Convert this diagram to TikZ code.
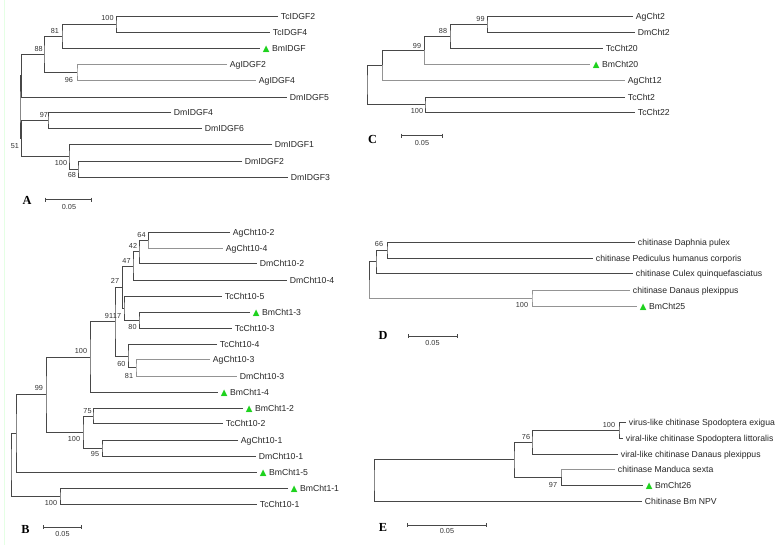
\documentclass[tikz,border=0pt]{standalone}
\usepackage{fontspec}
\newfontfamily\leaffamily{Liberation Sans}
\newfontfamily\panelfamily{Liberation Serif}
\newfontfamily\trifamily{DejaVu Sans}
\definecolor{trigreen}{RGB}{30,210,30}
\newcommand{\tri}{{\trifamily\textcolor{trigreen}{▲}}\ }

\begin{document}
\begin{tikzpicture}[x=0.03cm,y=-0.03cm,
  br/.style={draw=black!72,line width=0.55pt},
  brl/.style={draw=black!42,line width=0.45pt},
  leaf/.style={anchor=west,inner xsep=2.3pt,inner ysep=0pt,text=black!85,
    font=\leaffamily\fontsize{7.4}{8.5}\selectfont,text height=1.5ex,text depth=.25ex},
  boot/.style={inner sep=0pt,text=black!80,font=\leaffamily\fontsize{6.2}{7}\selectfont},
  panel/.style={inner sep=0pt,font=\panelfamily\bfseries\fontsize{10.5}{12}\selectfont}]
\fill[white] (0,0) rectangle (783,547);
\useasboundingbox (0,0) rectangle (783,547);
\draw[green!10,line width=0.8pt] (4,0) -- (4,545);

% A
\node[leaf] (TcIDGF2) at (278,16) {TcIDGF2};
\node[leaf] (TcIDGF4) at (270,32) {TcIDGF4};
\node[leaf] (BmIDGF) at (260,48) {\tri BmIDGF};
\node[leaf] (AgIDGF2) at (227,64) {AgIDGF2};
\node[leaf] (AgIDGF4) at (256,80) {AgIDGF4};
\node[leaf] (DmIDGF5) at (287,97) {DmIDGF5};
\node[leaf] (DmIDGF4) at (171,112) {DmIDGF4};
\node[leaf] (DmIDGF6) at (202,128) {DmIDGF6};
\node[leaf] (DmIDGF1) at (272,144) {DmIDGF1};
\node[leaf] (DmIDGF2) at (242,161) {DmIDGF2};
\node[leaf] (DmIDGF3) at (288,177) {DmIDGF3};
\coordinate (a100) at (116,24);
\coordinate (a81) at (62,36);
\coordinate (a96) at (77,72);
\coordinate (a88) at (44,54);
\coordinate (aX) at (21.7,75.5);
\coordinate (a97) at (48,120);
\coordinate (a68) at (78,169);
\coordinate (a100b) at (69,156.5);
\coordinate (a51) at (21.7,138);
\coordinate (aR) at (20,107);
\draw[br] (TcIDGF2.west) -| (a100) |- (TcIDGF4.west);
\draw[br] (a100) -| (a81) |- (BmIDGF.west);
\draw[brl] (AgIDGF2.west) -| (a96) |- (AgIDGF4.west);
\draw[br] (a81) -| (a88) |- (a96);
\draw[br] (a88) -| (aX) |- (DmIDGF5.west);
\draw[br] (DmIDGF4.west) -| (a97) |- (DmIDGF6.west);
\draw[br] (DmIDGF2.west) -| (a68) |- (DmIDGF3.west);
\draw[br] (DmIDGF1.west) -| (a100b) |- (a68);
\draw[br] (a97) -| (a51) |- (a100b);
\draw[br] (aX) -| (aR) |- (a51);
\node[boot] (bA1) at (107.5,18.3) {100};
\node[boot] (bA2) at (55,31) {81};
\node[boot] (bA3) at (38.7,49) {88};
\node[boot] (bA4) at (69,80) {96};
\node[boot] (bA5) at (44,115) {97};
\node[boot] (bA6) at (15,146) {51};
\node[boot] (bA7) at (61,163) {100};
\node[boot] (bA8) at (72,175) {68};
\node[panel] (pA) at (27,200) {A};
\draw[br] (45,197.5) -- (45,201.5) (45,199.5) -- (91,199.5) (91,197.5) -- (91,201.5);
\node[boot] (sA) at (69,207) {0.05};

% C
\node[leaf] (AgCht2) at (633,16) {AgCht2};
\node[leaf] (DmCht2) at (635,32) {DmCht2};
\node[leaf] (TcCht20) at (603,48) {TcCht20};
\node[leaf] (BmCht20) at (590,64) {\tri BmCht20};
\node[leaf] (AgCht12) at (625,80) {AgCht12};
\node[leaf] (TcCht2) at (625,97) {TcCht2};
\node[leaf] (TcCht22) at (635,112) {TcCht22};
\coordinate (c99a) at (487,24);
\coordinate (c88) at (450,36);
\coordinate (c99b) at (424,50);
\coordinate (cY) at (382,65);
\coordinate (c100) at (425,104.5);
\coordinate (cR) at (367,84.75);
\draw[br] (AgCht2.west) -| (c99a) |- (DmCht2.west);
\draw[br] (c99a) -| (c88) |- (TcCht20.west);
\draw[br] (c88) -| (c99b);
\draw[brl] (c99b) |- (BmCht20.west);
\draw[br] (c99b) -| (cY);
\draw[brl] (cY) |- (AgCht12.west);
\draw[br] (TcCht2.west) -| (c100) |- (TcCht22.west);
\draw[br] (cY) -| (cR) |- (c100);
\node[boot] (bC1) at (480.5,18.7) {99};
\node[boot] (bC2) at (443,31) {88};
\node[boot] (bC3) at (417,45.5) {99};
\node[boot] (bC4) at (417,111) {100};
\node[panel] (pC) at (372.5,139) {C};
\draw[br] (401,133.7) -- (401,137.7) (401,135.7) -- (442,135.7) (442,133.7) -- (442,137.7);
\node[boot] (sC) at (422,142.5) {0.05};

% D
\node[leaf] (Daphnia) at (635,242) {chitinase Daphnia pulex};
\node[leaf] (Pediculus) at (593,258) {chitinase Pediculus humanus corporis};
\node[leaf] (Culex) at (633,273) {chitinase Culex quinquefasciatus};
\node[leaf] (DanausD) at (630,290) {chitinase Danaus plexippus};
\node[leaf] (BmCht25) at (637,306) {\tri BmCht25};
\coordinate (d66) at (387,250);
\coordinate (dN) at (376,261.5);
\coordinate (d100) at (532,298);
\coordinate (dR) at (369,279.75);
\draw[br] (Daphnia.west) -| (d66) |- (Pediculus.west);
\draw[br] (d66) -| (dN) |- (Culex.west);
\draw[brl] (DanausD.west) -| (d100) |- (BmCht25.west);
\draw[br] (dN) -| (dR);
\draw[brl] (dR) |- (d100);
\node[boot] (bD1) at (379,244) {66};
\node[boot] (bD2) at (522,305) {100};
\node[panel] (pD) at (383,335) {D};
\draw[br] (408,334) -- (408,338) (408,336) -- (457,336) (457,334) -- (457,338);
\node[boot] (sD) at (432.5,343) {0.05};

% E
\node[leaf] (exigua) at (626,422) {virus-like chitinase Spodoptera exigua};
\node[leaf] (littoralis) at (623,438) {viral-like chitinase Spodoptera littoralis};
\node[leaf] (DanausE) at (618,454) {viral-like chitinase Danaus plexippus};
\node[leaf] (Manduca) at (615,469) {chitinase Manduca sexta};
\node[leaf] (BmCht26) at (643,485) {\tri BmCht26};
\node[leaf] (NPV) at (642,501) {Chitinase Bm NPV};
\coordinate (e100) at (619,430);
\coordinate (e76) at (532,442);
\coordinate (e97) at (561,477);
\coordinate (eZ) at (514,459.5);
\coordinate (eR) at (374,480.25);
\draw[br] (exigua.west) -| (e100) |- (littoralis.west);
\draw[br] (e100) -| (e76) |- (DanausE.west);
\draw[brl] (Manduca.west) -| (e97);
\draw[br] (e97) |- (BmCht26.west);
\draw[br] (e76) -| (eZ) |- (e97);
\draw[br] (eZ) -| (eR) |- (NPV.west);
\node[boot] (bE1) at (609,425) {100};
\node[boot] (bE2) at (526,437) {76};
\node[boot] (bE3) at (553,485) {97};
\node[panel] (pE) at (383,527) {E};
\draw[br] (407,523) -- (407,527) (407,525) -- (486,525) (486,523) -- (486,527);
\node[boot] (sE) at (447,531) {0.05};

% B
\node[leaf] (ag2) at (230,232) {AgCht10-2};
\node[leaf] (ag4) at (223,248) {AgCht10-4};
\node[leaf] (dm2) at (257,263) {DmCht10-2};
\node[leaf] (dm4) at (287,280) {DmCht10-4};
\node[leaf] (tc5) at (222,296) {TcCht10-5};
\node[leaf] (bm3) at (250,312) {\tri BmCht1-3};
\node[leaf] (tc3) at (232,328) {TcCht10-3};
\node[leaf] (tc4) at (217,344) {TcCht10-4};
\node[leaf] (ag3) at (210,359) {AgCht10-3};
\node[leaf] (dm3) at (237,376) {DmCht10-3};
\node[leaf] (bm4) at (218,392) {\tri BmCht1-4};
\node[leaf] (bm2) at (243,408) {\tri BmCht1-2};
\node[leaf] (tc2) at (223,423) {TcCht10-2};
\node[leaf] (ag1) at (238,440) {AgCht10-1};
\node[leaf] (dm1) at (256,456) {DmCht10-1};
\node[leaf] (bm5) at (257,472) {\tri BmCht1-5};
\node[leaf] (bm1) at (288,488) {\tri BmCht1-1};
\node[leaf] (tc1) at (257,504) {TcCht10-1};
\coordinate (b64) at (148,240);
\coordinate (b42) at (139,251.5);
\coordinate (b47) at (133,266);
\coordinate (b80) at (139,320);
\coordinate (b17) at (124,308);
\coordinate (b27) at (122.5,287);
\coordinate (b81) at (136,367.5);
\coordinate (b60) at (128,356);
\coordinate (b91) at (115,321.5);
\coordinate (b100) at (90,357);
\coordinate (b75) at (93,416);
\coordinate (b95) at (102,448);
\coordinate (b100c) at (83,432);
\coordinate (b99) at (46,394.5);
\coordinate (bX) at (16,433);
\coordinate (b100d) at (60,496);
\coordinate (bR) at (11,464.5);
\draw[br] (ag2.west) -| (b64);
\draw[brl] (b64) |- (ag4.west);
\draw[br] (b64) -| (b42) |- (dm2.west);
\draw[br] (b42) -| (b47) |- (dm4.west);
\draw[br] (bm3.west) -| (b80) |- (tc3.west);
\draw[br] (tc5.west) -| (b17) |- (b80);
\draw[br] (b47) -| (b27) |- (b17);
\draw[brl] (ag3.west) -| (b81) |- (dm3.west);
\draw[br] (tc4.west) -| (b60) |- (b81);
\draw[br] (b27) -| (b91) |- (b60);
\draw[br] (b91) -| (b100) |- (bm4.west);
\draw[br] (bm2.west) -| (b75) |- (tc2.west);
\draw[br] (ag1.west) -| (b95) |- (dm1.west);
\draw[br] (b75) -| (b100c) |- (b95);
\draw[br] (b100) -| (b99) |- (b100c);
\draw[br] (b99) -| (bX) |- (bm5.west);
\draw[br] (bm1.west) -| (b100d) |- (tc1.west);
\draw[br] (bX) -| (bR) |- (b100d);
\node[boot] (bB1) at (141.5,234.5) {64};
\node[boot] (bB2) at (133,246) {42};
\node[boot] (bB3) at (126.5,260.5) {47};
\node[boot] (bB4) at (115,281) {27};
\node[boot] (bB5) at (109,316) {91};
\node[boot] (bB6) at (117,316) {17};
\node[boot] (bB7) at (132.5,327) {80};
\node[boot] (bB8) at (81,351) {100};
\node[boot] (bB9) at (121.5,363.5) {60};
\node[boot] (bB10) at (129,375.5) {81};
\node[boot] (bB11) at (39,388) {99};
\node[boot] (bB12) at (87.5,411) {75};
\node[boot] (bB13) at (74,439) {100};
\node[boot] (bB14) at (95,454) {95};
\node[boot] (bB15) at (51,503) {100};
\node[panel] (pB) at (25.5,529) {B};
\draw[br] (43,525) -- (43,529) (43,527) -- (81,527) (81,525) -- (81,529);
\node[boot] (sB) at (62.5,534) {0.05};
\end{tikzpicture}
\end{document}
